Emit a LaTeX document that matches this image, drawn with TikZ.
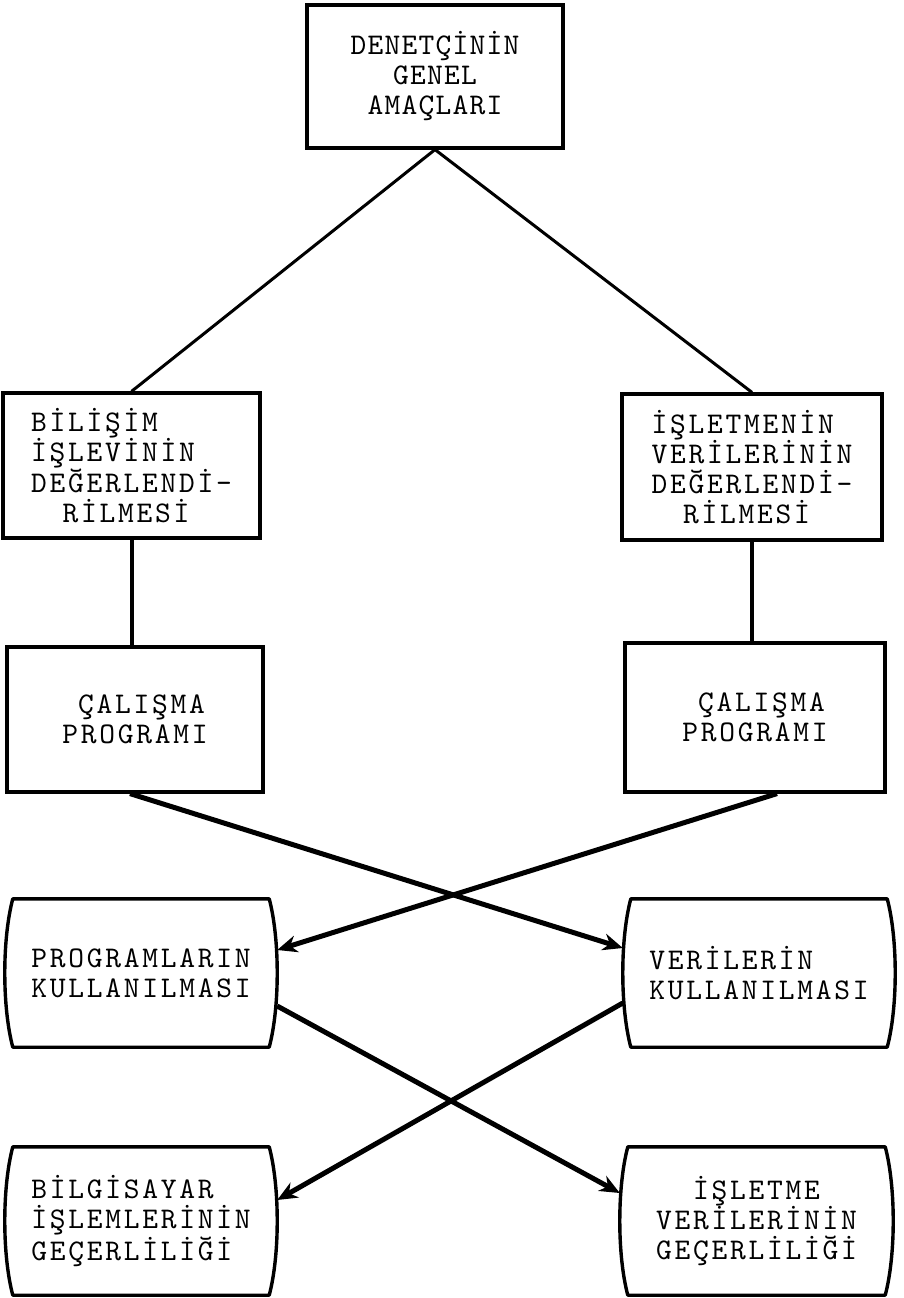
\documentclass[tikz,border=0pt]{standalone}
\usepackage{fontspec}
\usetikzlibrary{calc,arrows.meta}
\newfontfamily\twfont[LetterSpace=9.2]{lmmono10-regular.otf}
\newfontfamily\twtopfont[LetterSpace=4.2]{lmmono10-regular.otf}
\newcommand\mainfnt{\twfont\fontsize{30}{30}\selectfont}
\newcommand\topfnt{\twtopfont\fontsize{30}{30}\selectfont}
\newcommand\indsp{\phantom{M}}
\newcommand\barrel[1]{%
  \draw[rline] ($(#1.north west)+(8,0)$) -- ($(#1.north east)+(-8,0)$)
    .. controls ($(#1.north east)+(2.7,40)$) and ($(#1.south east)+(2.7,-40)$) .. ($(#1.south east)+(-8,0)$)
    -- ($(#1.south west)+(8,0)$)
    .. controls ($(#1.south west)+(-2.7,-40)$) and ($(#1.north west)+(-2.7,40)$) .. cycle;}
\tikzset{
  box/.style={draw, line width=3.2pt, inner sep=0pt, align=left, font=\mainfnt},
  rbox/.style={inner sep=0pt, align=left, font=\mainfnt},
  rline/.style={line width=3.4pt, line join=round},
  conn/.style={line width=3pt},
  arr/.style={line width=5pt, -{Stealth[length=20pt,width=17pt]}},
}
\begin{document}
\begin{tikzpicture}[x=1pt,y=-1pt]
\fill[white] (0,0) rectangle (904,1298);
\useasboundingbox (0,0) rectangle (904,1298);

% row 1
\node[box, align=center, font=\topfnt, minimum width=256, minimum height=143] (top) at (435,76.5)
  {DENETÇİNİN\\GENEL\\AMAÇLARI};

% row 2
\node[box, minimum width=257, minimum height=145] (b1) at (131.5,465.5)
  {BİLİŞİM\\İŞLEVİNİN\\DEĞERLENDİ-\\\indsp\indsp RİLMESİ};
\node[box, minimum width=260, minimum height=146] (b2) at (752,467)
  {İŞLETMENİN\\VERİLERİNİN\\DEĞERLENDİ-\\\indsp\indsp RİLMESİ};

% row 3
\node[box, minimum width=256, minimum height=145] (c1) at (135,719.5)
  {\indsp ÇALIŞMA\\PROGRAMI};
\node[box, minimum width=260, minimum height=149] (c2) at (755,717.5)
  {\indsp ÇALIŞMA\\PROGRAMI};

% row 4
\node[rbox, minimum width=272, minimum height=148] (d1) at (141,973)
  {PROGRAMLARIN\\KULLANILMASI};
\node[rbox, minimum width=272, minimum height=148] (d2) at (759,973)
  {VERİLERİN\\KULLANILMASI};
\barrel{d1}
\barrel{d2}

% row 5
\node[rbox, minimum width=272, minimum height=148] (e1) at (141,1221)
  {BİLGİSAYAR\\İŞLEMLERİNİN\\GEÇERLİLİĞİ};
\node[rbox, align=center, minimum width=273, minimum height=148] (e2) at (756.5,1221)
  {İŞLETME\\VERİLERİNİN\\GEÇERLİLİĞİ};
\barrel{e1}
\barrel{e2}

% connectors
\draw[conn] (top.south) -- (b1.north);
\draw[conn] (top.south) -- (b2.north);
\draw[conn, line width=4pt] (b1.south) -- (b1.south |- c1.north);
\draw[conn, line width=4pt] (b2.south) -- (b2.south |- c2.north);

\draw[arr] ($(c1.south)+(-5,0)$) -- ($(d2.west)+(0,-25)$);
\draw[arr] ($(c2.south)+(22,0)$) -- ($(d1.east)+(0,-23)$);
\draw[arr] ($(d1.east)+(0,33)$) -- ($(e2.west)+(0,-28)$);
\draw[arr] ($(d2.west)+(0,30)$) -- ($(e1.east)+(0,-21)$);
\end{tikzpicture}
\end{document}
